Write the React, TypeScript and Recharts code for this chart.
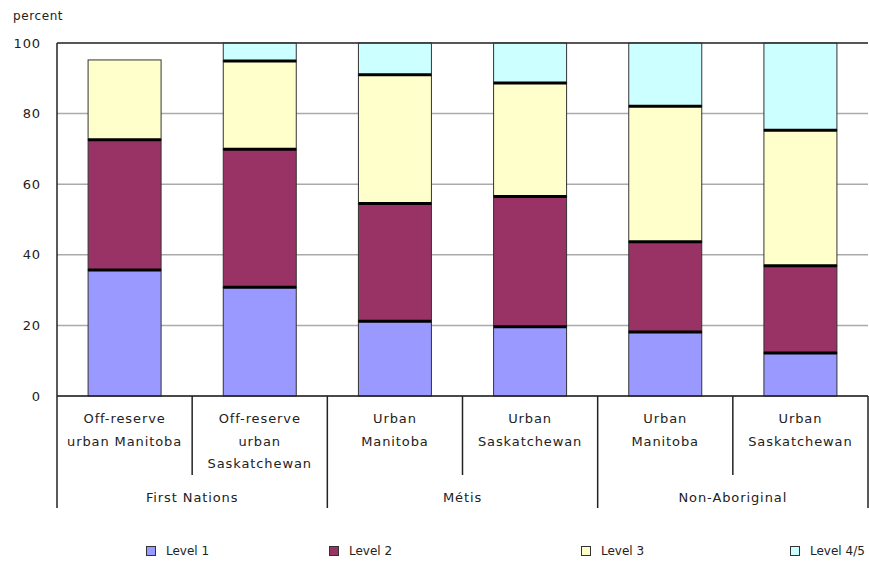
import React from "react";
import { BarChart, Bar, XAxis, YAxis, CartesianGrid, ReferenceLine } from "recharts";

const categories = ["FN-MB", "FN-SK", "MET-MB", "MET-SK", "NA-MB", "NA-SK"];
const categoryLines = [
  ["Off-reserve", "urban Manitoba"],
  ["Off-reserve", "urban", "Saskatchewan"],
  ["Urban", "Manitoba"],
  ["Urban", "Saskatchewan"],
  ["Urban", "Manitoba"],
  ["Urban", "Saskatchewan"],
];
const groups = ["First Nations", "Métis", "Non-Aboriginal"];

const level1 = [35.7, 30.8, 21.2, 19.6, 18.1, 12.2];
const level2 = [36.9, 39.1, 33.3, 36.9, 25.6, 24.7];
const level3 = [22.6, 25.0, 36.5, 32.2, 38.4, 38.4];
const level45 = [0, 5.1, 9.0, 11.3, 17.9, 24.7];

const yTicks = [0, 20, 40, 60, 80, 100];

const seriesNames = ["Level 1", "Level 2", "Level 3", "Level 4/5"];
const seriesKeys = ["l1", "l2", "l3", "l4"];
const seriesColors = ["#9999ff", "#993366", "#ffffcc", "#ccffff"];

const data = categories.map((c, i) => ({
  name: c,
  l1: level1[i],
  l2: level2[i],
  l3: level3[i],
  l4: level45[i],
}));

const FONT = "'DejaVu Sans', sans-serif";
const TXT = "#222";

const SegShape = (props: any) => {
  const { x, y, width, height, fill, idx } = props;
  if (!height || height <= 0) return null;
  return (
    <g>
      <rect x={x} y={y} width={width} height={height} fill={fill} stroke="#333" strokeWidth={1} />
      {idx > 0 && (
        <line x1={x} x2={x + width} y1={y + height} y2={y + height} stroke="#000" strokeWidth={3} />
      )}
    </g>
  );
};

const CatTick = (props: any) => {
  const { x, y, payload, index } = props;
  const half = payload && payload.offset ? payload.offset : 67.7;
  const lines = categoryLines[index] || [];
  const top = y;
  const isGroupEnd = index % 2 === 1;
  return (
    <g>
      {lines.map((l: string, i: number) => (
        <text
          key={i}
          x={x}
          y={top + 27 + i * 22.5}
          textAnchor="middle"
          fontFamily={FONT}
          fontSize={13}
          letterSpacing={0.9}
          fill={TXT}
        >
          {l}
        </text>
      ))}
      <line x1={x + half} x2={x + half} y1={top} y2={isGroupEnd ? top + 112 : top + 79} stroke="#222" strokeWidth={1.5} />
      {index === 0 && (
        <line x1={x - half} x2={x - half} y1={top} y2={top + 112} stroke="#222" strokeWidth={1.5} />
      )}
      {isGroupEnd && (
        <text
          x={x - half}
          y={top + 106}
          textAnchor="middle"
          fontFamily={FONT}
          fontSize={13}
          letterSpacing={0.9}
          fill={TXT}
        >
          {groups[(index - 1) / 2]}
        </text>
      )}
    </g>
  );
};

const legendX = [146, 329, 581, 790];

export default function App() {
  return (
    <div style={{ position: "absolute", left: 0, top: 0, width: 869, height: 564, background: "#fff" }}>
      <BarChart
        width={869}
        height={564}
        data={data}
        margin={{ top: 43, right: 1, left: 0, bottom: 0 }}
        barCategoryGap="23%"
      >
        <CartesianGrid horizontal vertical={false} stroke="#aaa" strokeWidth={1.5} />
        <XAxis
          dataKey="name"
          height={168}
          interval={0}
          tickLine={false}
          tickSize={0}
          tickMargin={0}
          axisLine={{ stroke: "#222", strokeWidth: 1.5 }}
          tick={<CatTick />}
        />
        <YAxis
          width={57}
          domain={[0, 100]}
          ticks={yTicks}
          tickLine={false}
          tickSize={0}
          tickMargin={16}
          axisLine={{ stroke: "#222", strokeWidth: 1.5 }}
          tick={{ fontFamily: FONT, fontSize: 13, fill: TXT, letterSpacing: 0.9 }}
        />
        {seriesKeys.map((k, i) => (
          <Bar
            key={k}
            dataKey={k}
            name={seriesNames[i]}
            stackId="a"
            fill={seriesColors[i]}
            isAnimationActive={false}
            shape={(p: any) => <SegShape {...p} idx={i} />}
          />
        ))}
        <ReferenceLine y={100} stroke="#333" strokeWidth={1.5} />
        <text x={13} y={20} fontFamily={FONT} fontSize={12} letterSpacing={0.6} fill={TXT}>
          percent
        </text>
      </BarChart>
      {seriesNames.map((n, i) => (
        <div
          key={n}
          style={{
            position: "absolute",
            left: legendX[i],
            top: 544,
            display: "flex",
            alignItems: "center",
            fontFamily: FONT,
            fontSize: 12,
            letterSpacing: 0,
            color: TXT,
            whiteSpace: "nowrap",
          }}
        >
          <span
            style={{
              display: "inline-block",
              width: 8,
              height: 8,
              background: seriesColors[i],
              border: "1px solid #333",
              marginRight: 10,
            }}
          />
          <span>{n}</span>
        </div>
      ))}
    </div>
  );
}
